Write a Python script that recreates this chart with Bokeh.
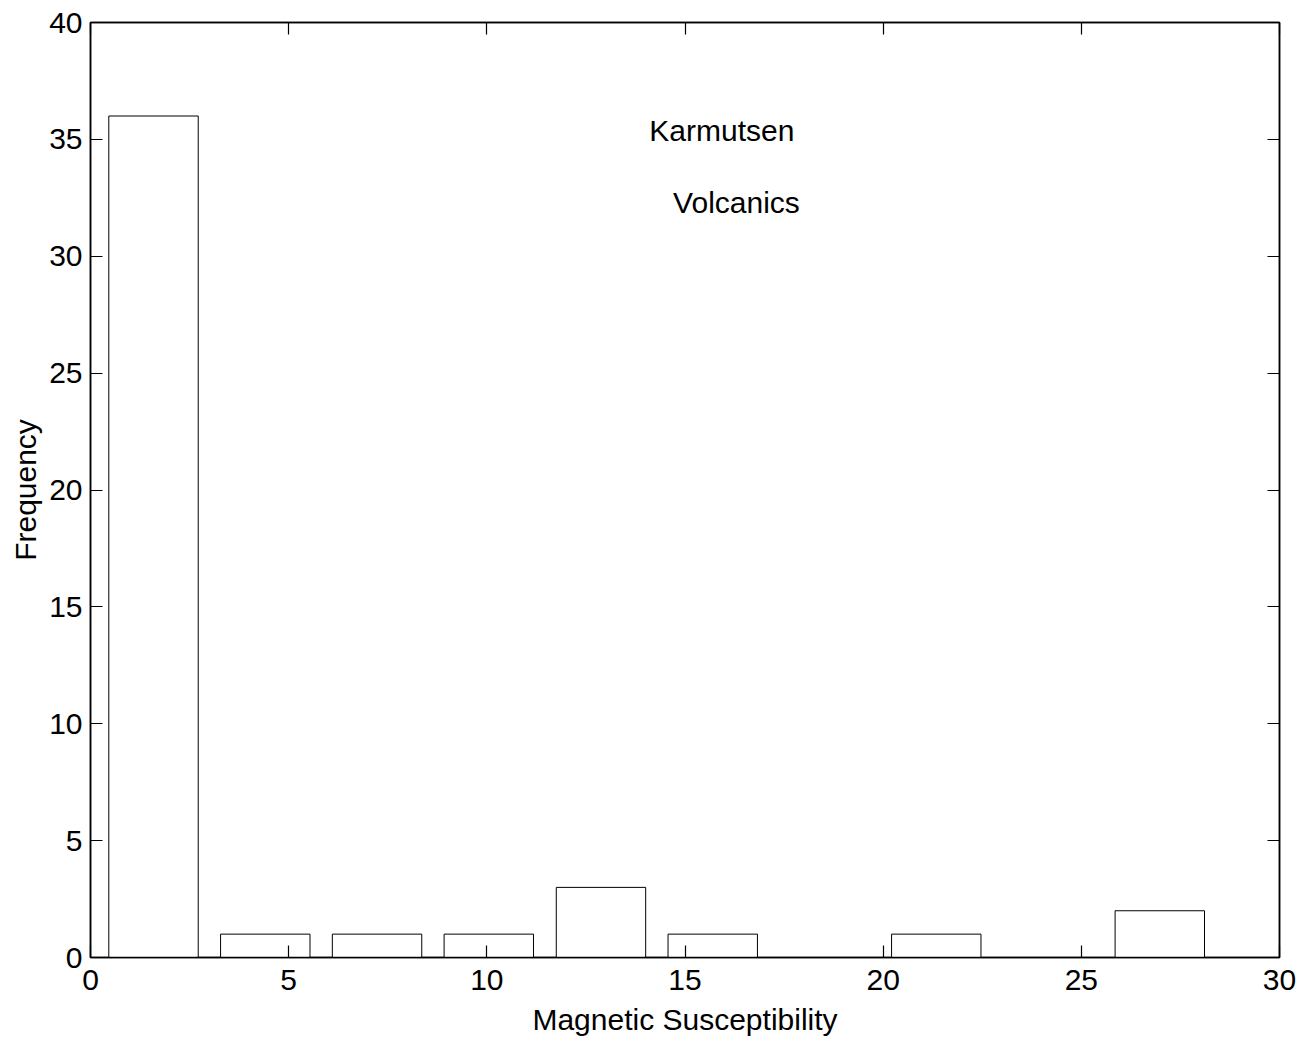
from bokeh.plotting import figure
from bokeh.models import LinearAxis, Range1d, FixedTicker, Label, CustomLabelingPolicy
from bokeh.embed import file_html
from bokeh.resources import INLINE

# Data
bin_centers = [1.59, 4.41, 7.23, 10.05, 12.88, 15.70, 18.52, 21.34, 24.16, 26.98]
frequency = [36, 1, 1, 1, 3, 1, 0, 1, 0, 2]
x_ticks = [0, 5, 10, 15, 20, 25, 30]
y_ticks = [0, 5, 10, 15, 20, 25, 30, 35, 40]
title_lines = ["Karmutsen", "Volcanics"]

FONT = "Liberation Sans"
bin_width = bin_centers[1] - bin_centers[0]
bar_w = 0.8 * bin_width

p = figure(frame_width=1189, frame_height=935,
           x_range=Range1d(0, 30), y_range=Range1d(0, 40),
           output_backend="svg", toolbar_location=None,
           min_border_left=90, min_border_top=22, min_border_right=20, min_border_bottom=60)
p.background_fill_color = "white"
p.border_fill_color = "white"
p.grid.visible = False
p.outline_line_color = "black"
p.outline_line_width = 1.5

p.quad(left=[c - bar_w / 2 for c in bin_centers], right=[c + bar_w / 2 for c in bin_centers],
       bottom=0, top=frequency, fill_color="white", line_color="black", line_width=1)

for ax, ticks in ((p.xaxis[0], x_ticks), (p.yaxis[0], y_ticks)):
    ax.ticker = FixedTicker(ticks=ticks)
    ax.major_tick_in = 12
    ax.major_tick_out = 0
    ax.minor_tick_line_color = None
    ax.axis_line_color = "black"
    ax.axis_line_width = 1.5
    ax.major_tick_line_width = 1.2
    ax.major_label_text_font = FONT
    ax.major_label_text_font_size = "30px"
    ax.major_label_text_color = "black"
    ax.axis_label_text_font = FONT
    ax.axis_label_text_font_size = "30px"
    ax.axis_label_text_font_style = "normal"
    ax.axis_label_text_color = "black"

p.xaxis[0].axis_label = "Magnetic Susceptibility"
p.xaxis[0].major_label_standoff = 12
p.xaxis[0].axis_label_standoff = 10
p.yaxis[0].axis_label = "Frequency"
p.yaxis[0].major_label_standoff = 8
p.yaxis[0].axis_label_standoff = 4

hide_all = CustomLabelingPolicy(code="for (const i of indices) { indices.unset(i) }")
for loc, ticks in (("right", y_ticks), ("above", x_ticks)):
    ax = LinearAxis(ticker=FixedTicker(ticks=ticks), major_label_policy=hide_all)
    ax.major_tick_in = 12
    ax.major_tick_out = 0
    ax.minor_tick_line_color = None
    ax.axis_line_color = "black"
    ax.axis_line_width = 1.5
    ax.major_tick_line_width = 1.2
    ax.major_label_text_font_size = "1px"
    ax.major_label_standoff = 0
    p.add_layout(ax, loc)

p.add_layout(Label(x=14.1, y=35.4, text=title_lines[0], text_font=FONT, text_font_size="30px",
                   text_baseline="middle", text_align="left", text_color="black"))
p.add_layout(Label(x=14.7, y=32.3, text=title_lines[1], text_font=FONT, text_font_size="30px",
                   text_baseline="middle", text_align="left", text_color="black"))

open("out.html", "w").write(file_html(p, INLINE))
